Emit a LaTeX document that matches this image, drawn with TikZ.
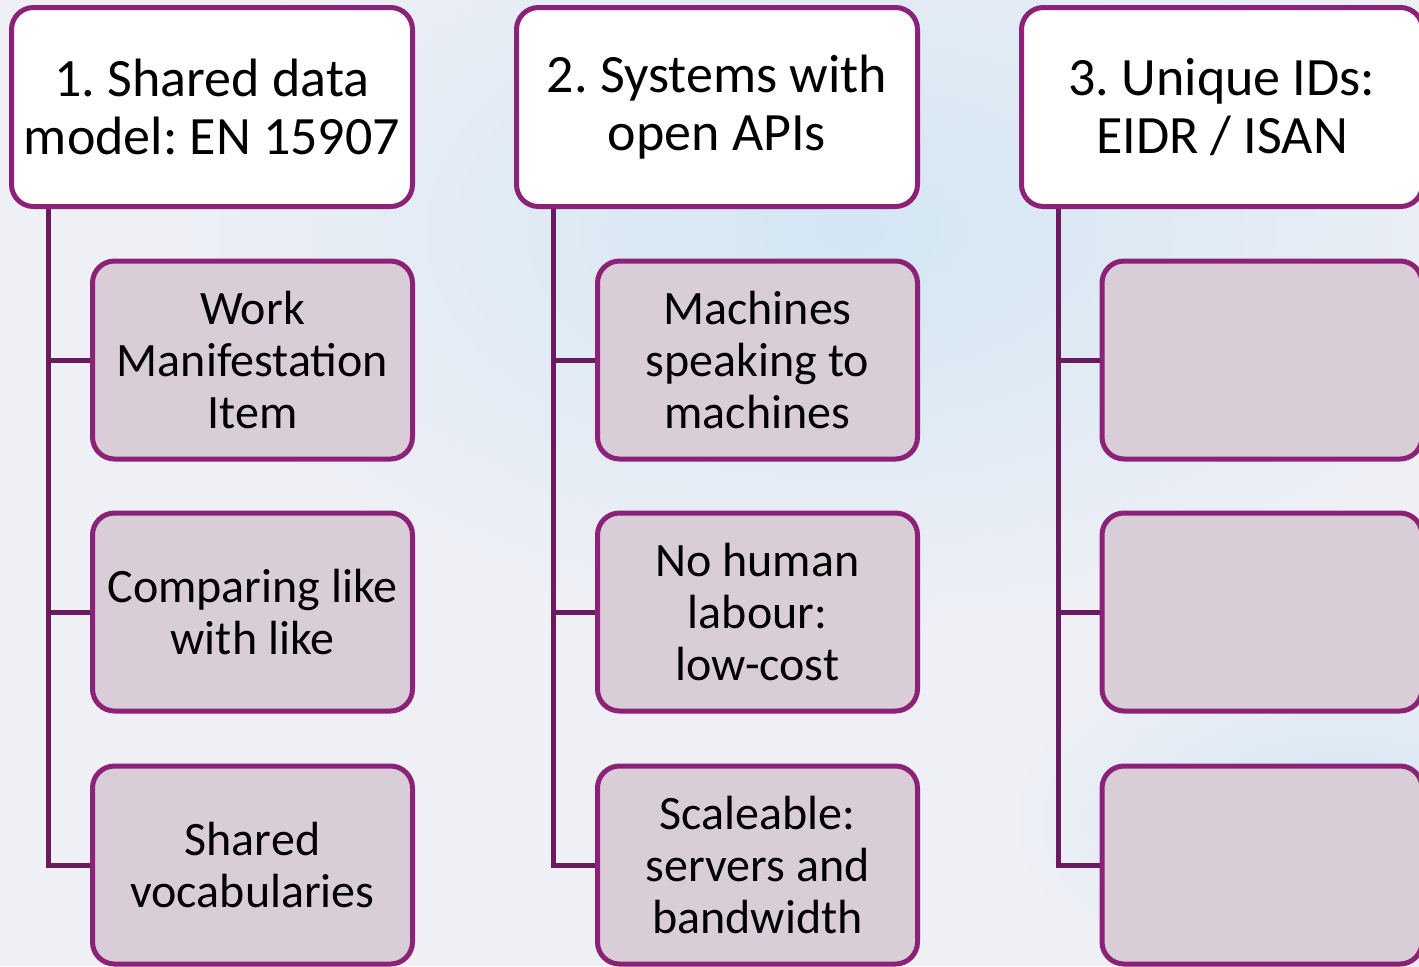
\documentclass[tikz,border=0pt]{standalone}
\usepackage{fontspec}
\setmainfont{Carlito}
\frenchspacing
\definecolor{plum}{HTML}{8B2278}
\definecolor{darkplum}{HTML}{6C1A5E}
\definecolor{mauve}{HTML}{D9CDD8}
\definecolor{paper}{HTML}{EFF0F5}
\definecolor{skyblue}{HTML}{D3E6F4}
\begin{document}
\begin{tikzpicture}[x=0.5pt, y=-0.5pt,
    head/.style={draw=plum, line width=2.5pt, fill=white, rounded corners=11pt,
      minimum width=200.5pt, minimum height=99.5pt, inner sep=0pt, align=center,
      font=\fontsize{27}{29}\selectfont},
    leaf/.style={draw=plum, line width=2.5pt, fill=mauve, rounded corners=11pt,
      minimum width=160pt, minimum height=99pt, inner sep=0pt, align=center,
      font=\fontsize{24}{26}\selectfont},
    link/.style={draw=darkplum, line width=2.5pt}]
        \clip (0, 0) rectangle (1419, 966);
        % background
        \fill[paper] (0, 0) rectangle (1419, 966);
        \shade[inner color=skyblue, outer color=paper] (850, 230) ellipse (720 and 420);
        \shade[inner color=skyblue, outer color=paper] (1340, 820) ellipse (340 and 190);
        % headers
        \node[head] (h1) at (212, 107) {1. Shared data\\model: EN 15907};
        \node[head] (h2) at (717, 107) {2. Systems with\\open APIs};
        \node[head] (h3) at (1222, 107) {3. Unique IDs:\\EIDR / ISAN};
        % column 1
        \node[leaf] (l11) at (252.5, 360) {Work\\Manifestation\\Item};
        \node[leaf] (l12) at (252.5, 612) {Comparing like\\with like};
        \node[leaf] (l13) at (252.5, 865) {Shared\\vocabularies};
        % column 2
        \node[leaf] (l21) at (757.5, 360) {Machines\\speaking to\\machines};
        \node[leaf] (l22) at (757.5, 612) {No human\\labour:\\low-cost};
        \node[leaf] (l23) at (757.5, 865) {Scaleable:\\servers and\\bandwidth};
        % column 3
        \node[leaf] (l31) at (1262, 360) {};
        \node[leaf] (l32) at (1262, 612) {};
        \node[leaf] (l33) at (1262, 865) {};
        % trunks and stubs
        \coordinate (t1) at ([xshift=19.5pt]h1.south west);
        \coordinate (t2) at ([xshift=19.5pt]h2.south west);
        \coordinate (t3) at ([xshift=19.5pt]h3.south west);
        \foreach \c in {1, 2, 3} {
          \draw[link] (t\c) |- (l\c3.west);
          \draw[link] (t\c |- l\c1.west) -- (l\c1.west);
          \draw[link] (t\c |- l\c2.west) -- (l\c2.west);
        }
\end{tikzpicture}
\end{document}
